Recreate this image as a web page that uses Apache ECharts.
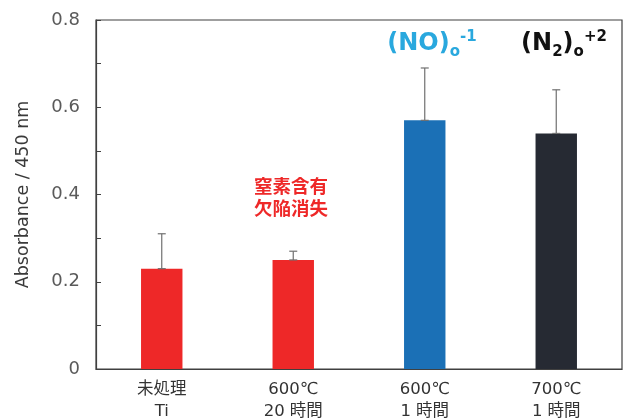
<!DOCTYPE html>
<html>
<head>
<meta charset="utf-8">
<script src="https://cdn.jsdelivr.net/npm/echarts@6/dist/echarts.min.js"></script>
<style>
  html, body { margin: 0; padding: 0; background: #fff; }
  #chart { width: 625px; height: 419px; }
</style>
</head>
<body>
<div id="chart"></div>
<script>
// Sample conditions (two-line category labels)
const categories = ['未処理\nTi', '600℃\n20 時間', '600℃\n1 時間', '700℃\n1 時間'];
// Mean absorbance at 450 nm
const absorbance = [0.23, 0.25, 0.57, 0.54];
// Upper end of each error bar
const errorTop = [0.31, 0.27, 0.69, 0.64];
const barColors = ['#EE2828', '#EE2828', '#1B70B6', '#262A33'];
const yTicks = [0, 0.2, 0.4, 0.6, 0.8];

const FONT = '"DejaVu Sans", "Noto Sans CJK JP", sans-serif';
const chart = echarts.init(document.getElementById('chart'), null, { renderer: 'canvas' });

const supSub = (color) => ({
  b: { fontSize: 24, fontWeight: 'bold', fill: color, fontFamily: FONT },
  sub: { fontSize: 15, fontWeight: 'bold', fill: color, fontFamily: FONT, padding: [16, 0, 0, 0] },
  sup: { fontSize: 15, fontWeight: 'bold', fill: color, fontFamily: FONT, padding: [0, 0, 13, 0] }
});

chart.setOption({
  animation: false,
  backgroundColor: '#fff',
  grid: {
    left: 96, right: 3, top: 20, bottom: 50,
    outerBoundsMode: 'none',
    containLabel: false,
    show: true, borderColor: '#404040', borderWidth: 1.2
  },
  xAxis: {
    type: 'category',
    data: categories,
    axisLine: { lineStyle: { color: '#404040', width: 1.2 } },
    axisTick: { show: false },
    axisLabel: {
      color: '#333333', fontSize: 16.5, fontFamily: FONT, lineHeight: 22, margin: 10,
      interval: 0
    }
  },
  yAxis: {
    type: 'value',
    min: 0, max: 0.8, interval: 0.1,
    name: 'Absorbance / 450 nm',
    nameLocation: 'middle',
    nameGap: 64,
    nameTextStyle: { color: '#3a3a3a', fontSize: 17.5, fontFamily: FONT },
    splitLine: { show: false },
    axisLine: { show: true, lineStyle: { color: '#404040', width: 1.2 } },
    axisTick: { show: true, inside: true, length: 5, lineStyle: { color: '#404040' } },
    axisLabel: {
      color: '#5a5a5a', fontSize: 18, fontFamily: FONT, margin: 16,
      formatter: (v) => {
        const t = yTicks.find((k) => Math.abs(k - v) < 1e-6);
        return t === undefined ? '' : String(t);
      }
    }
  },
  series: [
    {
      type: 'bar',
      barWidth: '31.5%',
      data: absorbance.map((v, i) => ({ value: v, itemStyle: { color: barColors[i] } })),
      z: 2
    },
    {
      type: 'custom',
      z: 3,
      data: absorbance.map((v, i) => [i, v, errorTop[i]]),
      renderItem: (params, api) => {
        const base = api.coord([api.value(0), api.value(1)]);
        const top = api.coord([api.value(0), api.value(2)]);
        const half = 4;
        const style = { stroke: '#707070', lineWidth: 1.2 };
        return {
          type: 'group',
          children: [
            { type: 'line', shape: { x1: base[0], y1: base[1], x2: top[0], y2: top[1] }, style },
            { type: 'line', shape: { x1: top[0] - half, y1: top[1], x2: top[0] + half, y2: top[1] }, style },
            { type: 'line', shape: { x1: base[0] - half, y1: base[1], x2: base[0] + half, y2: base[1] }, style }
          ]
        };
      }
    }
  ],
  graphic: [
    {
      type: 'text', x: 291, y: 197,
      style: {
        text: '窒素含有\n欠陥消失', fill: '#EE2828',
        font: 'bold 18.5px "Noto Sans CJK JP", sans-serif',
        align: 'center', verticalAlign: 'middle', lineHeight: 22
      }
    },
    {
      type: 'text', x: 432, y: 44,
      style: {
        text: '{b|(NO)}{sub|o}{sup|-1}', rich: supSub('#29A8DE'),
        align: 'center', verticalAlign: 'middle'
      }
    },
    {
      type: 'text', x: 564, y: 44,
      style: {
        text: '{b|(N}{sub|2}{b|)}{sub|o}{sup|+2}', rich: supSub('#111111'),
        align: 'center', verticalAlign: 'middle'
      }
    }
  ]
});
</script>
</body>
</html>
